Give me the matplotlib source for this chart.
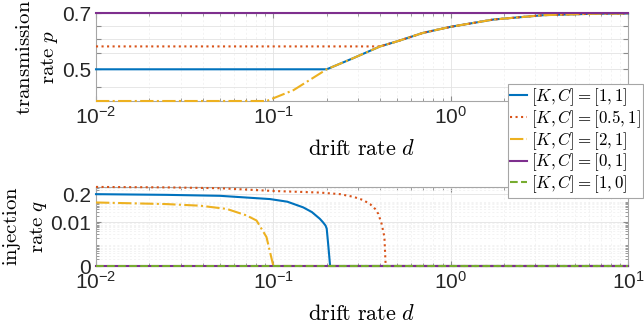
import numpy as np
import matplotlib
matplotlib.use("Agg")
import matplotlib.pyplot as plt
from matplotlib.ticker import FixedLocator, NullLocator, LogLocator, FixedFormatter
from matplotlib.lines import Line2D

# series labels and MATLAB-style colours / line styles
labels = [r"$[K,C]=[1,1]$", r"$[K,C]=[0.5,1]$", r"$[K,C]=[2,1]$",
          r"$[K,C]=[0,1]$", r"$[K,C]=[1,0]$"]
colors = ["#0072BD", "#D95319", "#EDB120", "#7E2F8E", "#77AC30"]
styles = ["-", ":", "-.", "-", "--"]

# transmission rate p: shared curve once injection has stopped
d_common = [0.0916, 0.13, 0.2, 0.283, 0.4, 0.5, 0.7, 1.0, 1.74, 3.34, 6.37, 10]
p_common = [0.413, 0.441, 0.5, 0.535, 0.574, 0.592, 0.623, 0.646, 0.675, 0.693, 0.699, 0.7]
# flat level of p before joining the shared curve, and where it joins
p_flat = [0.5, 0.574, 0.413, 0.7]
d_join = [0.2, 0.4, 0.0916, 10]

# injection rate q
d_q1 = [0.01, 0.025, 0.05, 0.0958, 0.12, 0.1475, 0.165, 0.183, 0.19, 0.197, 0.2,
        0.2045, 0.209, 10]
q_q1 = [0.2, 0.186, 0.168, 0.119, 0.09, 0.0493, 0.03, 0.0147, 0.0105, 0.0072, 0.0052,
        0.00075, 0, 0]
d_q2 = [0.01, 0.025, 0.05, 0.1, 0.183, 0.238, 0.283, 0.32, 0.351, 0.375, 0.391, 0.408,
        0.423, 0.43, 10]
q_q2 = [0.43, 0.41, 0.375, 0.28, 0.237, 0.2, 0.151, 0.108, 0.0703, 0.042, 0.0247,
        0.0087, 0.00214, 0, 0]
d_q3 = [0.01, 0.025, 0.0386, 0.0546, 0.0707, 0.0804, 0.0915, 0.1, 10]
q_q3 = [0.083, 0.070, 0.059, 0.042, 0.021, 0.0123, 0.00214, 0, 0]
d_q4 = [0.01, 10]
q_q4 = [0, 0]
d_q5 = [0.01, 10]
q_q5 = [0, 0]

q_floor = 1e-4  # bottom of the log axis, labelled as 0

plt.rcParams["font.family"] = "Liberation Sans"
plt.rcParams["mathtext.fontset"] = "custom"
plt.rcParams["mathtext.rm"] = "Liberation Sans"
plt.rcParams["mathtext.it"] = "Liberation Sans:italic"

W, H = 644, 328
fig = plt.figure(figsize=(W / 100, H / 100), dpi=100)
ax1 = fig.add_axes([96 / W, 1 - 101 / H, 532 / W, 87.5 / H])
ax2 = fig.add_axes([96 / W, 1 - 266 / H, 532 / W, 79.5 / H])

lw = 1.5
for i in range(4):
    dc = np.array(d_common)
    pc = np.array(p_common)
    keep = dc > d_join[i]
    d = np.concatenate([[0.01, d_join[i]], dc[keep]])
    p = np.concatenate([[p_flat[i], p_flat[i]], pc[keep]])
    if i == 3:
        d, p = np.array([0.01, 10]), np.array([0.7, 0.7])
    ax1.plot(d, p, color=colors[i], ls=styles[i], lw=lw, clip_on=False, zorder=3)

for i, (d, q) in enumerate([(d_q1, q_q1), (d_q2, q_q2), (d_q3, q_q3),
                             (d_q4, q_q4), (d_q5, q_q5)]):
    ax2.plot(d, np.maximum(q, q_floor), color=colors[i], ls=styles[i], lw=lw,
             clip_on=False, zorder=3)

for ax in (ax1, ax2):
    ax.set_xscale("log")
    ax.set_yscale("log")
    ax.set_xlim(0.01, 10)
    ax.tick_params(which="both", direction="in", top=True, right=True,
                   color="#8c8c8c", labelcolor="#262626", labelsize=15)
    ax.tick_params(which="major", length=3.5)
    ax.tick_params(which="minor", length=2)
    for s in ax.spines.values():
        s.set_color("#a6a6a6")
        s.set_linewidth(0.8)
    ax.grid(True, which="major", color="#e3e3e3", lw=0.6)
    ax.grid(True, which="minor", color="#efefef", lw=0.5, ls=(0, (3, 3)))
    ax.set_axisbelow(True)
    ax.set_xlabel(r"$\mathrm{drift\ rate}\ d$", math_fontfamily="cm", fontsize=16,
                  labelpad=8)

ax1.set_ylim(0.413, 0.7)
ax1.yaxis.set_major_locator(FixedLocator([0.45, 0.5, 0.55, 0.6, 0.65, 0.7]))
ax1.yaxis.set_major_formatter(FixedFormatter(["", "0.5", "", "", "", "0.7"]))
ax1.yaxis.set_minor_locator(NullLocator())
ax1.set_ylabel("$\\mathrm{transmission}$\n$\\mathrm{rate}\\ p$", math_fontfamily="cm",
               fontsize=15, linespacing=1.35)
ax1.yaxis.set_label_coords(-0.068, 0.5)

ax2.set_ylim(q_floor, 0.45)
ax2.yaxis.set_major_locator(FixedLocator([q_floor, 0.01, 0.2]))
ax2.yaxis.set_major_formatter(FixedFormatter(["0", "0.01", "0.2"]))
ax2.yaxis.set_minor_locator(LogLocator(base=10, subs=np.arange(2, 10), numticks=20))
ax2.set_ylabel("$\\mathrm{injection}$\n$\\mathrm{rate}\\ q$", math_fontfamily="cm",
               fontsize=15, linespacing=1.35)
ax2.yaxis.set_label_coords(-0.088, 0.5)

handles = [Line2D([], [], color=c, ls=s, lw=lw) for c, s in zip(colors, styles)]
leg = fig.legend(handles, labels, loc="upper right", bbox_to_anchor=(643 / W, 1 - 84 / H),
                 fontsize=12.2, frameon=True, fancybox=False, framealpha=1,
                 edgecolor="#a6a6a6", handlelength=1.0, handletextpad=0.2,
                 borderpad=0.15, labelspacing=0.0, borderaxespad=0)
leg.get_frame().set_linewidth(0.8)
for t in leg.get_texts():
    t.set_math_fontfamily("cm")

fig.savefig("out.png", dpi=100)
